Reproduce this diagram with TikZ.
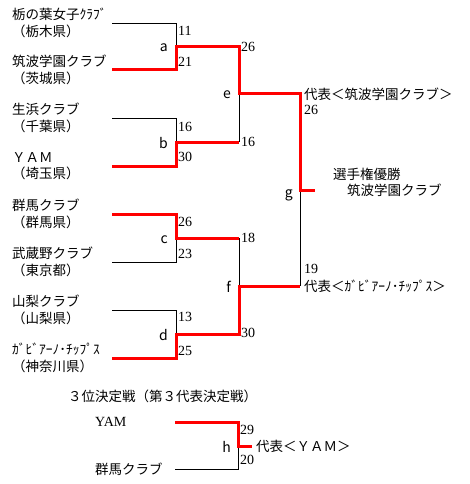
\documentclass[tikz,border=0pt]{standalone}
\usepackage{fontspec}
\newfontfamily\jpfont{Noto Sans CJK JP}
\newfontfamily\scorefont{Liberation Serif}
\usetikzlibrary{calc}
\definecolor{winRed}{HTML}{FF0000}
\tikzset{
  team/.style={anchor=west, inner sep=0pt, align=left, font=\jpfont\fontsize{13.5}{16.5}\selectfont},
  note/.style={anchor=west, inner sep=0pt, font=\jpfont\fontsize{13.5}{16}\selectfont},
  score/.style={anchor=west, inner sep=0pt, font=\scorefont\fontsize{14}{15}\selectfont},
  match/.style={anchor=base east, inner sep=0pt, font=\jpfont\fontsize{14}{16}\selectfont},
  loser/.style={draw=black, line width=0.8pt},
  winner/.style={draw=winRed, line width=3pt, line join=miter},
}
\begin{document}
\begin{tikzpicture}[x=1pt, y=-1pt]
  \useasboundingbox (0,0) rectangle (469,484);

  % line ends of the teams and the joints of the bracket
  \coordinate (t1) at (112,23);  \coordinate (t2) at (112,70);
  \coordinate (t3) at (112,118); \coordinate (t4) at (112,166);
  \coordinate (t5) at (112,214); \coordinate (t6) at (112,262);
  \coordinate (t7) at (112,310); \coordinate (t8) at (112,358);
  \coordinate (a) at (176,47);  \coordinate (b) at (176,142);
  \coordinate (c) at (176,238); \coordinate (d) at (176,334);
  \coordinate (e) at (239,94);  \coordinate (f) at (239,286);
  \coordinate (g) at (300,190); \coordinate (champ) at (315,190);
  \coordinate (t9) at (175,422); \coordinate (t10) at (175,469);
  \coordinate (h) at (238,446); \coordinate (hw) at (252,446);

  % teams
  \node[team] (n1) at (12,23)  {栃の葉女子ｸﾗﾌﾞ\\（栃木県）};
  \node[team] (n2) at (12,70)  {筑波学園クラブ\\（茨城県）};
  \node[team] (n3) at (12,118) {生浜クラブ\\（千葉県）};
  \node[team] (n4) at (12,166) {ＹＡＭ\\（埼玉県）};
  \node[team] (n5) at (12,214) {群馬クラブ\\（群馬県）};
  \node[team] (n6) at (12,262) {武蔵野クラブ\\（東京都）};
  \node[team] (n7) at (12,310) {山梨クラブ\\（山梨県）};
  \node[team] (n8) at (12,358) {ｶﾞﾋﾞｱｰﾉ･ﾁｯﾌﾟｽ\\（神奈川県）};

  % black bracket lines
  \draw[loser] (t1) -- (t1 -| a) -- (t2 -| a) -- (t2);
  \draw[loser] (t3) -- (t3 -| b) -- (t4 -| b) -- (t4);
  \draw[loser] (t5) -- (t5 -| c) -- (t6 -| c) -- (t6);
  \draw[loser] (t7) -- (t7 -| d) -- (t8 -| d) -- (t8);
  \draw[loser] (a -| e) -- (b -| e);
  \draw[loser] (c -| f) -- (d -| f);
  \draw[loser] (e -| g) -- (f -| g);
  \draw[loser] (t9) -- (t9 -| h) -- (t10 -| h) -- (t10);

  % red: the way of each winner
  \draw[winner] (t2) -- (t2 -| a) -- (a) -- (a -| e) -- (e) -- (e -| g) -- (g) -- (champ);
  \draw[winner] (t4) -- (t4 -| b) -- (b) -- (b -| e);
  \draw[winner] (t5) -- (t5 -| c) -- (c) -- (c -| f);
  \draw[winner] (t8) -- (t8 -| d) -- (d) -- (d -| f) -- (f) -- (f -| g);
  \draw[winner] (t9) -- (t9 -| h) -- (h) -- (hw);

  % match letters
  \node[match] (la) at ($(a)+(-8,5)$) {a};
  \node[match] (lb) at ($(b)+(-8,6)$) {b};
  \node[match] (lc) at ($(c)+(-8,5)$) {c};
  \node[match] (ld) at ($(d)+(-8,6)$) {d};
  \node[match] (le) at ($(e)+(-8,5)$) {e};
  \node[match] (lf) at ($(f)+(-8,6)$) {f};
  \node[match] (lg) at ($(g)+(-7,7)$) {g};
  \node[match] (lh) at ($(h)+(-7,6)$) {h};

  % scores
  \node[score] (s1) at (178,31)  {11};
  \node[score] (s2) at (178,62)  {21};
  \node[score] (s3) at (178,127) {16};
  \node[score] (s4) at (178,157) {30};
  \node[score] (s5) at (178,222) {26};
  \node[score] (s6) at (178,254) {23};
  \node[score] (s7) at (178,317) {13};
  \node[score] (s8) at (178,351) {25};
  \node[score] (se1) at (241,47)  {26};
  \node[score] (se2) at (241,142) {16};
  \node[score] (sf1) at (241,238) {18};
  \node[score] (sf2) at (241,333) {30};
  \node[score] (sg1) at (304,110) {26};
  \node[score] (sg2) at (304,269) {19};
  \node[score] (sh1) at (240,430) {29};
  \node[score] (sh2) at (240,460) {20};

  % representatives and champion
  \node[note] (rep1) at (304,94)  {代表＜筑波学園クラブ＞};
  \node[note] (rep2) at (304,286) {代表＜ｶﾞﾋﾞｱｰﾉ･ﾁｯﾌﾟｽ＞};
  \node[note] (win1) at (333,174) {選手権優勝};
  \node[note] (win2) at (347,190) {筑波学園クラブ};

  % third place
  \node[note] (third) at (68,396) {３位決定戦（第３代表決定戦）};
  \node[anchor=west, inner sep=0pt, font=\scorefont\fontsize{14}{15}\selectfont] (n9) at (95,422) {YAM};
  \node[note] (n10) at (95,469) {群馬クラブ};
  \node[note] (rep3) at (256,446) {代表＜ＹＡＭ＞};
\end{tikzpicture}
\end{document}
